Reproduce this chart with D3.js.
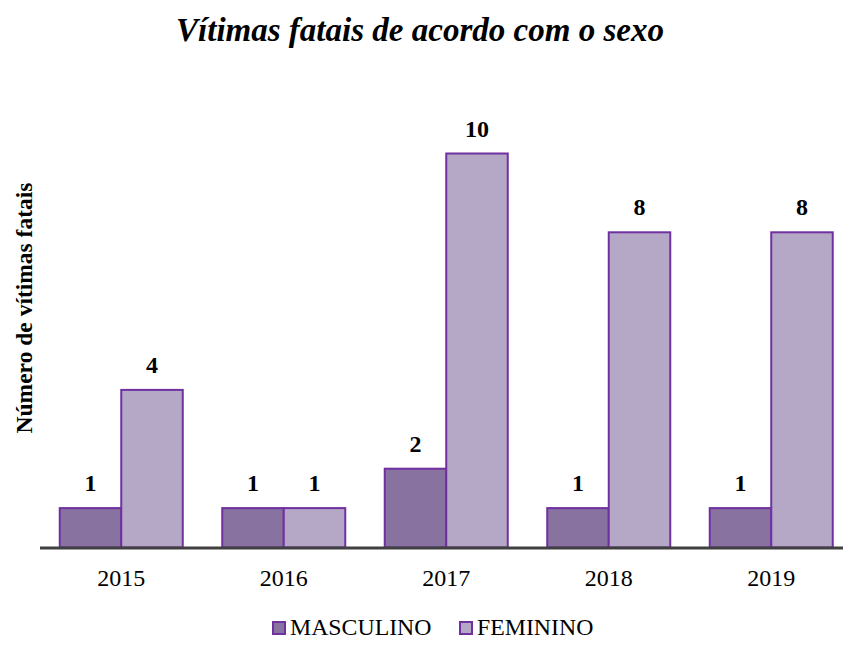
<!DOCTYPE html>
<html>
<head>
<meta charset="utf-8">
<script src="https://cdn.jsdelivr.net/npm/d3@7/dist/d3.min.js"></script>
<style>
  html, body { margin: 0; padding: 0; background: #ffffff; }
  svg { display: block; }
</style>
</head>
<body>
<svg id="chart" width="843" height="646"></svg>
<script>
const years = ["2015", "2016", "2017", "2018", "2019"];
const seriesNames = ["MASCULINO", "FEMININO"];
const masculino = [1, 1, 2, 1, 1];
const feminino = [4, 1, 10, 8, 8];
const seriesColors = ["#8772a0", "#b5a8c7"];
const titleText = "Vítimas fatais de acordo com o sexo";
const yTitleText = "Número de vítimas fatais";

const svg = d3.select("#chart");
const serif = "'Liberation Serif', 'Times New Roman', Times, serif";

const x = d3.scaleBand().domain(years).range([40, 852.5]).paddingInner(0.243).paddingOuter(0.1215);
const xs = d3.scaleBand().domain(seriesNames).range([0, x.bandwidth()]);
const y = d3.scaleLinear().domain([0, 10]).range([547.5, 153.5]);

const data = years.map((yr, i) => ({ year: yr, values: [masculino[i], feminino[i]] }));

// title
svg.append("text")
  .attr("x", 420).attr("y", 41)
  .attr("text-anchor", "middle")
  .attr("font-family", serif).attr("font-weight", "bold").attr("font-style", "italic")
  .attr("font-size", 33)
  .attr("textLength", 488).attr("lengthAdjust", "spacingAndGlyphs")
  .text(titleText);

// y title
svg.append("text")
  .attr("transform", "translate(32,308) rotate(-90)")
  .attr("text-anchor", "middle")
  .attr("font-family", serif).attr("font-weight", "bold")
  .attr("font-size", 23.5)
  .text(yTitleText);

// bars
const g = svg.append("g");
const groups = g.selectAll("g.grp").data(data).enter().append("g")
  .attr("transform", d => `translate(${x(d.year)},0)`);

groups.selectAll("rect").data(d => d.values.map((v, k) => ({ v, k })))
  .enter().append("rect")
  .attr("x", d => xs(seriesNames[d.k]))
  .attr("y", d => y(d.v))
  .attr("width", xs.bandwidth())
  .attr("height", d => y(0) - y(d.v))
  .attr("fill", d => seriesColors[d.k])
  .attr("stroke", "#7030a0")
  .attr("stroke-width", 2);

groups.selectAll("text.val").data(d => d.values.map((v, k) => ({ v, k })))
  .enter().append("text")
  .attr("class", "val")
  .attr("x", d => xs(seriesNames[d.k]) + xs.bandwidth() / 2)
  .attr("y", d => y(d.v) - 17)
  .attr("text-anchor", "middle")
  .attr("font-family", serif).attr("font-weight", "bold")
  .attr("font-size", 24)
  .text(d => d.v);

// x axis
const xAxis = d3.axisBottom(x).tickSize(0).tickPadding(0);
const ax = svg.append("g").attr("transform", `translate(0,${y(0)})`).call(xAxis);
ax.select(".domain").remove();
ax.selectAll("text")
  .attr("dy", 0).attr("y", 38.5)
  .attr("font-family", serif).attr("font-size", 24).attr("fill", "#000");
svg.append("line")
  .attr("x1", 40).attr("x2", 843)
  .attr("y1", y(0) + 0.5).attr("y2", y(0) + 0.5)
  .attr("stroke", "#404040").attr("stroke-width", 3);

// legend
const legendPos = [272, 459];
const leg = svg.append("g");
seriesNames.forEach((name, k) => {
  leg.append("rect")
    .attr("x", legendPos[k] + 1).attr("y", 622)
    .attr("width", 12).attr("height", 12)
    .attr("fill", seriesColors[k]).attr("stroke", "#7030a0").attr("stroke-width", 2);
  leg.append("text")
    .attr("x", legendPos[k] + 18).attr("y", 635)
    .attr("font-family", serif).attr("font-size", 23.8)
    .text(name);
});
</script>
</body>
</html>
